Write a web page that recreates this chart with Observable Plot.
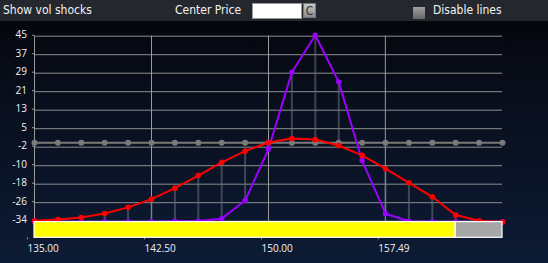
<!DOCTYPE html>
<html>
<head>
<meta charset="utf-8">
<script src="https://cdn.jsdelivr.net/npm/d3@7"></script>
<script src="https://cdn.jsdelivr.net/npm/@observablehq/plot@0.6"></script>
<style>
  html, body { margin: 0; padding: 0; width: 548px; height: 263px; overflow: hidden; }
  body { background: linear-gradient(to bottom, #04060c 0px, #04060c 21px, #070b16 60px, #0d1b35 263px); font-family: "DejaVu Sans Condensed", "DejaVu Sans", sans-serif; }
  #hdr { position: relative; height: 21px; background: #24272d; color: #f2f2f2; font-size: 12px; }
  #hdr .t { position: absolute; top: 3px; line-height: 15px; white-space: nowrap; }
  #inp { position: absolute; left: 252px; top: 3px; width: 48px; height: 14px; background: #fff; border: 1px solid #999; }
  #btn { position: absolute; left: 303px; top: 3px; width: 13px; height: 15px; background: linear-gradient(#c8c8c8, #8a8a8a); border: 1px solid #777; box-sizing: border-box; color: #333; font-size: 12px; line-height: 14px; text-align: center; }
  #chk { position: absolute; left: 413px; top: 7px; width: 12px; height: 12px; background: linear-gradient(#a0a0a0, #666); }
  #chart svg { display: block; }
</style>
</head>
<body>
<div id="hdr">
  <span class="t" style="left:3px">Show vol shocks</span>
  <span class="t" style="left:175px">Center Price</span>
  <div id="inp"></div>
  <div id="btn">C</div>
  <div id="chk"></div>
  <span class="t" style="left:433px">Disable lines</span>
</div>
<div id="chart"></div>
<script>
// Underlying prices (x)
const prices = [135, 136.5, 138, 139.5, 141, 142.5, 144, 145.5, 147, 148.5, 150, 151.5, 153, 154.5, 156, 157.5, 159, 160.5, 162, 163.5, 165];
// Red series
const redValues = [-33.8, -33.3, -32.4, -30.7, -28.1, -24.6, -19.9, -14.5, -8.9, -4.1, -0.4, 1.3, 0.9, -1.7, -5.9, -11.6, -17.6, -23.6, -31.4, -33.8, -34.4];
// Purple series
const purpleValues = [-34.2, -34.2, -34.2, -34.2, -34.2, -34.2, -34.0, -34.0, -32.9, -25.2, -3.2, 29.6, 45.4, 25.5, -8.1, -30.8, -34.0, -34.2, -34.2, -34.2, -34.2];
// Gray (baseline) series
const grayValues = [-0.5, -0.5, -0.5, -0.5, -0.5, -0.5, -0.5, -0.5, -0.5, -0.5, -0.5, -0.5, -0.5, -0.5, -0.5, -0.5, -0.5, -0.5, -0.5, -0.5, -0.5];
// Axis ticks
const yTickValues = [45, 37.1, 29.2, 21.3, 13.4, 5.5, -2.4, -10.3, -18.2, -26.1, -34];
const yTickLabels = ["45", "37", "29", "21", "13", "5", "-2", "-10", "-18", "-26", "-34"];
const xTickValues = [135, 142.5, 150, 157.49];
const xTickLabels = ["135.00", "142.50", "150.00", "157.49"];
// Range bar below the chart: [start, split, end]
const rangeBar = [135, 162, 165];
const rangeBarY = [-34.4, -41.1];

const rows = prices.map((p, i) => ({price: p, red: redValues[i], purple: purpleValues[i], gray: grayValues[i]}));
const barRows = [
  {x1: rangeBar[0], x2: rangeBar[1], part: "filled"},
  {x1: rangeBar[1], x2: rangeBar[2], part: "rest"}
];

const chart = Plot.plot({
  width: 548,
  height: 242,
  marginLeft: 34,
  marginRight: 46,
  marginTop: 14.7,
  marginBottom: 25.7,
  style: {background: "transparent", fontFamily: "'Open Sans', sans-serif", fontSize: "10px", color: "#f2f2f2"},
  x: {domain: [135, 165]},
  y: {domain: [rangeBarY[1], 45]},
  marks: [
    Plot.ruleY(yTickValues, {x1: 135, x2: 165, stroke: "#8e8e8e", strokeWidth: 1}),
    Plot.ruleX(xTickValues, {y1: rangeBarY[0], y2: 45, stroke: "#9a9a9a", strokeWidth: 1}),
    Plot.axisY(yTickValues, {tickFormat: (d, i) => yTickLabels[i], tickSize: 2, tickPadding: 5.5, stroke: "#9a9a9a", fill: "#f2f2f2", fontSize: 10, dy: -1, label: null}),
    Plot.axisX(xTickValues, {tickFormat: (d, i) => xTickLabels[i], tickSize: 2, tickPadding: 5, textAnchor: "start", dx: -7, stroke: "#9a9a9a", fill: "#f2f2f2", fontSize: 10, label: null}),
    Plot.line(rows, {x: "price", y: "gray", stroke: "#7a7a7a", strokeWidth: 2}),
    Plot.dot(rows, {x: "price", y: "gray", r: 3, fill: "#7a7a7a"}),
    Plot.ruleX(rows, {x: "price", y1: "red", y2: "purple", stroke: "#6a7080", strokeOpacity: 0.55, strokeWidth: 2}),
    Plot.line(rows, {x: "price", y: "purple", stroke: "#9900ff", strokeWidth: 2}),
    Plot.dot(rows, {x: "price", y: "purple", r: 2.7, fill: "#9900ff"}),
    Plot.line(rows, {x: "price", y: "red", stroke: "#ff0000", strokeWidth: 2}),
    Plot.dot(rows, {x: "price", y: "red", r: 2.8, fill: "#ff0000"}),
    Plot.rect(barRows, {x1: "x1", x2: "x2", y1: rangeBarY[0], y2: rangeBarY[1], fill: d => d.part === "filled" ? "#ffff00" : "#a6a6a6", stroke: "#ffffff", strokeWidth: 1.2})
  ]
});
document.getElementById("chart").appendChild(chart);
</script>
</body>
</html>
